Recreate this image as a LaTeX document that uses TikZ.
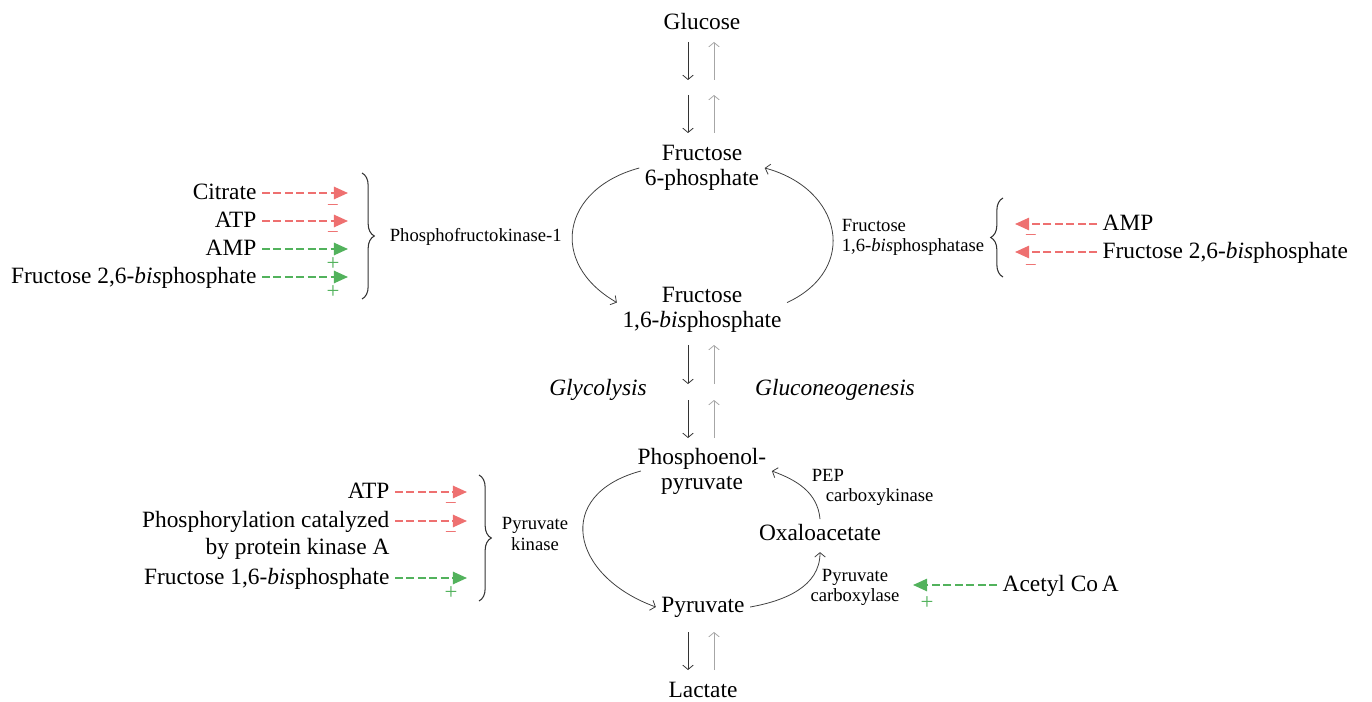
\documentclass[tikz,border=0pt]{standalone}
\usepackage{fontspec}
\setmainfont{Liberation Serif}
\usetikzlibrary{arrows.meta,decorations.pathreplacing}
\definecolor{inhred}{RGB}{238,112,112}
\definecolor{actgreen}{RGB}{82,178,92}

\begin{document}
\begin{tikzpicture}[x=0.02cm,y=0.02cm,
    met/.style={align=center,font=\fontsize{13.3}{14.2}\selectfont,inner sep=3pt},
    enz/.style={font=\fontsize{10.6}{11.4}\selectfont,inner sep=2pt},
    reg/.style={font=\fontsize{13.3}{14.2}\selectfont,inner sep=3pt,text height=9.5pt,text depth=2.5pt},
    fwd/.style={-{Straight Barb[length=2.5pt,width=6pt]},line width=0.45pt,black!80},
    bwd/.style={-{Straight Barb[length=2.5pt,width=6pt]},line width=0.45pt,black!35},
    cyc/.style={-{Straight Barb[length=2.5pt,width=6pt]},line width=0.45pt,black!75},
    inh/.style={inhred,line width=1pt,dash pattern=on 4.5pt off 2pt,-{Triangle[length=8pt,width=7pt]}},
    act/.style={actgreen,line width=1pt,dash pattern=on 4.5pt off 2pt,-{Triangle[length=8pt,width=7pt]}},
    sign/.style={font=\fontsize{11}{12}\selectfont,inner sep=0pt},
    brc/.style={decorate,decoration={brace,amplitude=7pt},line width=0.6pt,black!80}]

\useasboundingbox (0,0) rectangle (1372,-702);

% main pathway
\node[met] (glc) at (702,-22) {Glucose};
\node[met] (f6p) at (702,-168) {Fructose\\6-phosphate};
\node[met] (f16bp) at (702,-310) {Fructose\\1,6-\textit{bis}phosphate};
\node[met] (pep) at (702,-471) {Phosphoenol-\\pyruvate};
\node[met] (pyr) at (703,-607) {Pyruvate};
\node[met] (oaa) at (820,-533) {Oxaloacetate};
\node[met] (lac) at (703,-690) {Lactate};

\node[met,font=\fontsize{13.3}{14.2}\selectfont\itshape] (glyc) at (598,-390) {Glycolysis};
\node[met,font=\fontsize{13.3}{14.2}\selectfont\itshape] (gng) at (835,-390) {Gluconeogenesis};

\foreach \ya/\yb in {42/80, 95/133, 345/384, 400/438, 632/670} {
  \draw[fwd] (688,-\ya) -- (688,-\yb);
  \draw[bwd] (714,-\yb) -- (714,-\ya);
}

\path[cyc]
(f6p.west) edge [out=195,in=150,looseness=1.5] (f16bp.175)
(f16bp.5) edge [out=25,in=-15,looseness=1.5] (f6p.east)
([xshift=5pt]pep.west) edge [out=195,in=160,looseness=1.7] (pyr.west)
(pyr.east) edge [out=10,in=-90] ([yshift=-3pt]oaa.south)
(oaa.north) edge [out=95,in=-20] (pep.east);

% enzymes
\node[enz,anchor=west] (pfk) at (386,-237) {Phosphofructokinase-1};
\node[enz,anchor=west,align=left] (fbp) at (838,-237) {Fructose\\1,6-\textit{bis}phosphatase};
\node[enz,align=center] (pk) at (535,-534) {Pyruvate\\kinase};
\node[enz,anchor=west,align=left] (pepck) at (808,-487) {PEP\\\hspace*{8pt}carboxykinase};
\node[enz,align=center] (pc) at (855,-587) {Pyruvate\\carboxylase};

% PFK-1 regulators
\node[reg,anchor=east] (cit) at (262,-193) {Citrate};
\node[reg,anchor=east] (atp1) at (262,-221) {ATP};
\node[reg,anchor=east] (amp1) at (262,-249) {AMP};
\node[reg,anchor=east] (f26a) at (262,-277) {Fructose 2,6-\textit{bis}phosphate};
\draw[inh] (cit.east) -- ++(86,0);
\draw[inh] (atp1.east) -- ++(86,0);
\draw[act] (amp1.east) -- ++(86,0);
\draw[act] (f26a.east) -- ++(86,0);
\node[sign,inhred] (m1) at (333,-207) {–};
\node[sign,inhred] (m2) at (333,-234) {–};
\node[sign,actgreen,font=\fontsize{13}{14}\selectfont] (p1) at (333,-264) {+};
\node[sign,actgreen,font=\fontsize{13}{14}\selectfont] (p2) at (333,-292) {+};
\draw[brc] (362,-173) -- (362,-299);

% FBPase-1 regulators
\node[reg,anchor=west] (amp2) at (1097,-224) {AMP};
\node[reg,anchor=west] (f26b) at (1097,-252) {Fructose 2,6-\textit{bis}phosphate};
\draw[inh] (amp2.west) -- ++(-82,0);
\draw[inh] (f26b.west) -- ++(-82,0);
\node[sign,inhred] (m3) at (1031,-237) {–};
\node[sign,inhred] (m4) at (1031,-267) {–};
\draw[brc] (1003,-277) -- (1003,-198);

% pyruvate kinase regulators
\node[reg,anchor=east] (atp3) at (395,-492) {ATP};
\node[reg,anchor=east] (pka) at (395,-521) {Phosphorylation catalyzed};
\node[reg,anchor=east] (pkb) at (395,-548) {by protein kinase A};
\node[reg,anchor=east] (f16c) at (395,-578) {Fructose 1,6-\textit{bis}phosphate};
\draw[inh] (atp3.east) -- ++(72,0);
\draw[inh] (pka.east) -- ++(72,0);
\draw[act] (f16c.east) -- ++(72,0);
\node[sign,inhred] (m5) at (451,-505) {–};
\node[sign,inhred] (m6) at (451,-534) {–};
\node[sign,actgreen,font=\fontsize{13}{14}\selectfont] (p3) at (451,-593) {+};
\draw[brc] (479,-475) -- (479,-601);

% pyruvate carboxylase activator
\node[reg,anchor=west] (acoa) at (997,-585) {Acetyl Co\,A};
\draw[act] (acoa.west) -- ++(-84,0);
\node[sign,actgreen,font=\fontsize{13}{14}\selectfont] (p4) at (927,-603) {+};

\end{tikzpicture}
\end{document}
